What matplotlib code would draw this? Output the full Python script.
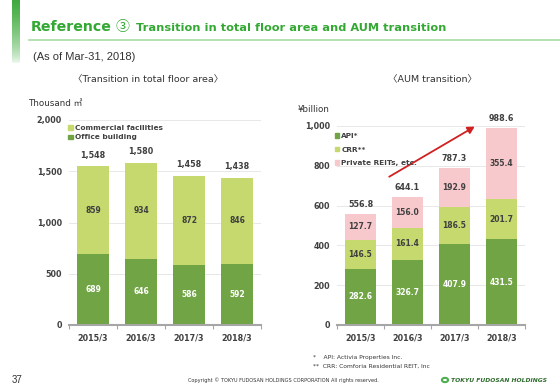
import matplotlib
matplotlib.use("Agg")
import matplotlib.pyplot as plt
import numpy as np
from matplotlib.patches import Rectangle, FancyArrowPatch
from matplotlib.lines import Line2D

plt.rcParams['font.family'] = ['DejaVu Sans', 'Noto Sans CJK JP']

years = ["2015/3", "2016/3", "2017/3", "2018/3"]
office = [689, 646, 586, 592]
commercial = [859, 934, 872, 846]
floor_total = [1548, 1580, 1458, 1438]

api = [282.6, 326.7, 407.9, 431.5]
crr = [146.5, 161.4, 186.5, 201.7]
private = [127.7, 156.0, 192.9, 355.4]
aum_total = [556.8, 644.1, 787.3, 988.6]

C_DARK = "#70A444"
C_LIGHT = "#C5D96F"
C_PINK = "#F8C9CC"
C_TXT = "#404040"
C_GRID = "#E8E8E8"
C_AX = "#A6A6A6"

W, H = 560, 388
fig = plt.figure(figsize=(W / 100, H / 100), dpi=100)

def fx(px):
    return px / W

def fy(py):
    return 1 - py / H

# header decoration
deco = fig.add_axes([fx(12), fy(64), fx(7), 64 / H])
grad = np.linspace(1, 0, 64).reshape(-1, 1) ** 0.6
deco.imshow(grad, aspect='auto', cmap=matplotlib.colors.LinearSegmentedColormap.from_list("g", ["#FFFFFF", "#3DAA3D"]), vmin=0, vmax=1)
deco.axis('off')
fig.add_artist(Line2D([fx(29), 1], [fy(40), fy(40)], color="#A8DCA8", lw=1.2))

fig.text(fx(31), fy(27), "Reference", color="#33A833", fontsize=10.2, fontweight='bold', va='center')
fig.text(fx(115), fy(27), "③", color="#33A833", fontsize=10, family='Noto Sans CJK JP', va='center')
fig.text(fx(136), fy(28), "Transition in total floor area and AUM transition", color="#33A833",
         fontsize=8.2, fontweight='bold', va='center')
fig.text(fx(33), fy(57), "(As of Mar-31, 2018)", fontsize=8, family='Liberation Sans', color="#333333", va='center')
fig.text(fx(148), fy(80), "〈Transition in total floor area〉", fontsize=6.8, color="#333333", ha='center', va='center')
fig.text(fx(432), fy(80), "〈AUM transition〉", fontsize=6.8, color="#333333", ha='center', va='center')

def style_axes(ax, ymax, yticks):
    ax.set_ylim(0, ymax)
    ax.set_xlim(-0.5, 3.5)
    ax.set_yticks(yticks)
    ax.set_yticklabels([f"{t:,}" for t in yticks], fontsize=5.8, fontweight='bold', color=C_TXT)
    ax.grid(axis='y', color=C_GRID, lw=0.7)
    ax.set_axisbelow(True)
    for s in ['left', 'right', 'top']:
        ax.spines[s].set_visible(False)
    ax.spines['bottom'].set_color(C_AX)
    ax.spines['bottom'].set_linewidth(1.5)
    ax.tick_params(axis='y', length=0, pad=5)
    ax.set_xticks(range(4))
    ax.set_xticklabels(years, fontsize=5.8, fontweight='bold', color=C_TXT)
    ax.tick_params(axis='x', which='major', length=0, pad=6)
    ax.set_xticks([-0.5, 0.5, 1.5, 2.5, 3.5], minor=True)
    ax.tick_params(axis='x', which='minor', length=3, color=C_AX, width=0.8)

# Left chart
ax1 = fig.add_axes([fx(69), fy(325), fx(192), (325 - 120) / H])
x = np.arange(4)
bw = 0.67
ax1.bar(x, office, bw, color=C_DARK, edgecolor='none')
ax1.bar(x, commercial, bw, bottom=office, color=C_LIGHT, edgecolor='none')
style_axes(ax1, 2000, [0, 500, 1000, 1500, 2000])
for i in range(4):
    ax1.text(i, office[i] / 2, f"{office[i]}", ha='center', va='center', fontsize=5.5, fontweight='bold', color='white')
    ax1.text(i, office[i] + commercial[i] / 2, f"{commercial[i]}", ha='center', va='center', fontsize=5.5,
             fontweight='bold', color=C_TXT)
    ax1.annotate(f"{floor_total[i]:,}", (i, floor_total[i]), xytext=(0, 8), textcoords='offset points',
                 ha='center', va='center', fontsize=5.8, fontweight='bold', color=C_TXT)
fig.text(fx(28), fy(103), "Thousand ㎡", fontsize=6.3, color="#333333", va='center')
h1 = [Rectangle((0, 0), 1, 1, color=C_LIGHT), Rectangle((0, 0), 1, 1, color=C_DARK)]
ax1.legend(h1, ["Commercial facilities", "Office building"], loc='upper left', bbox_to_anchor=(-0.03, 1.0),
           frameon=False, prop={'size': 5.3, 'weight': 'bold'}, handlelength=0.6, handleheight=0.6,
           handletextpad=0.3, labelspacing=0.45, borderaxespad=0.3)
for t in ax1.get_legend().get_texts():
    t.set_color(C_TXT)

# Right chart
ax2 = fig.add_axes([fx(337), fy(325), fx(188), (325 - 126) / H])
ax2.bar(x, api, bw, color=C_DARK, edgecolor='none')
b2 = np.array(api)
ax2.bar(x, crr, bw, bottom=b2, color=C_LIGHT, edgecolor='none')
b3 = b2 + np.array(crr)
ax2.bar(x, private, bw, bottom=b3, color=C_PINK, edgecolor='none')
style_axes(ax2, 1000, [0, 200, 400, 600, 800, 1000])
for i in range(4):
    ax2.text(i, api[i] / 2, f"{api[i]:.1f}", ha='center', va='center', fontsize=5.5, fontweight='bold', color='white')
    ax2.text(i, b2[i] + crr[i] / 2, f"{crr[i]:.1f}", ha='center', va='center', fontsize=5.5, fontweight='bold', color=C_TXT)
    ax2.text(i, b3[i] + private[i] / 2, f"{private[i]:.1f}", ha='center', va='center', fontsize=5.5,
             fontweight='bold', color=C_TXT)
    ax2.annotate(f"{aum_total[i]:.1f}", (i, aum_total[i]), xytext=(0, 7), textcoords='offset points',
                 ha='center', va='center', fontsize=5.8, fontweight='bold', color=C_TXT, annotation_clip=False)
fig.text(fx(298), fy(110), "¥billion", fontsize=6.3, family='DejaVu Sans', color="#333333", va='center')
h2 = [Rectangle((0, 0), 1, 1, color=C_DARK), Rectangle((0, 0), 1, 1, color=C_LIGHT), Rectangle((0, 0), 1, 1, color=C_PINK)]
ax2.legend(h2, ["API*", "CRR**", "Private REITs, etc."], loc='upper left', bbox_to_anchor=(-0.04, 0.99),
           frameon=False, prop={'size': 5.3, 'weight': 'bold'}, handlelength=0.6, handleheight=0.6,
           handletextpad=0.3, labelspacing=1.0, borderaxespad=0.3)
for t in ax2.get_legend().get_texts():
    t.set_color(C_TXT)
arrow = FancyArrowPatch((0.56, 738), (2.48, 1004), arrowstyle='-|>,head_length=4,head_width=2.2',
                        color="#D02020", lw=1.3, clip_on=False, mutation_scale=1)
ax2.add_patch(arrow)

# Footer
fig.text(fx(313), fy(357), "*    API: Activia Properties Inc.", fontsize=4.3, color="#333333", va='center')
fig.text(fx(313), fy(366), "**  CRR: Comforia Residential REIT, Inc", fontsize=4.3, color="#333333", va='center')
fig.text(fx(12), fy(380), "37", fontsize=7, color="#333333", va='center', family='Liberation Sans')
fig.text(fx(283), fy(380), "Copyright © TOKYU FUDOSAN HOLDINGS CORPORATION All rights reserved.", fontsize=3.6,
         color="#333333", va='center', ha='center')
fig.add_artist(matplotlib.patches.Circle((fx(445), fy(380)), 0.0055, transform=fig.transFigure,
                                         facecolor='none', edgecolor="#4CAF50", lw=1.5))
fig.text(fx(451), fy(380), "TOKYU FUDOSAN HOLDINGS", fontsize=4.3, fontweight='bold', style='italic',
         color="#2F6B2F", va='center')

fig.savefig("out.png", dpi=100)
